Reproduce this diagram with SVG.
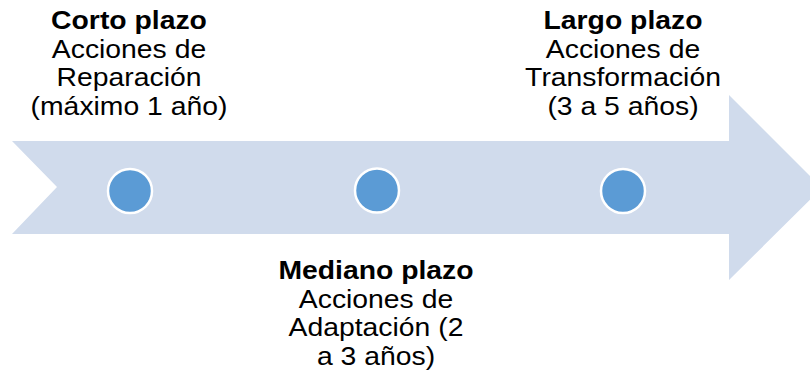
<svg xmlns="http://www.w3.org/2000/svg" width="810" height="373" viewBox="0 0 810 373">
<style>
.t{font-family:"Liberation Sans",Arial,sans-serif;font-size:26px;fill:#000;text-anchor:middle}
.b{font-weight:bold}
.dot{fill:#5B9BD5;stroke:#fff;stroke-width:2.5}
</style>
<rect width="810" height="373" fill="#fff"/>
<g id="arrow">
<polygon points="12,141 729,141 729,95 822,188 729,280 729,234 12,234 57,187" fill="#D0DBEC"/>
</g>
<g id="connectors"></g>
<g id="corto">
<circle class="dot" cx="130" cy="191" r="22"/>
<g transform="translate(129,0) scale(1.09,1)">
<text class="t b" x="0" y="29.5">Corto plazo</text>
<text class="t" x="0" y="58">Acciones de</text>
<text class="t" x="0" y="86.5">Reparación</text>
<text class="t" x="0" y="115">(máximo 1 año)</text>
</g>
</g>
<g id="mediano">
<circle class="dot" cx="377" cy="190.5" r="22"/>
<g transform="translate(376,0) scale(1.09,1)">
<text class="t b" x="0" y="279.5">Mediano plazo</text>
<text class="t" x="0" y="308">Acciones de</text>
<text class="t" x="0" y="336.5">Adaptación (2</text>
<text class="t" x="0" y="365">a 3 años)</text>
</g>
</g>
<g id="largo">
<circle class="dot" cx="623" cy="191" r="22"/>
<g transform="translate(623,0) scale(1.09,1)">
<text class="t b" x="0" y="29.5">Largo plazo</text>
<text class="t" x="0" y="58">Acciones de</text>
<text class="t" x="0" y="86.5">Transformación</text>
<text class="t" x="0" y="115">(3 a 5 años)</text>
</g>
</g>
</svg>
